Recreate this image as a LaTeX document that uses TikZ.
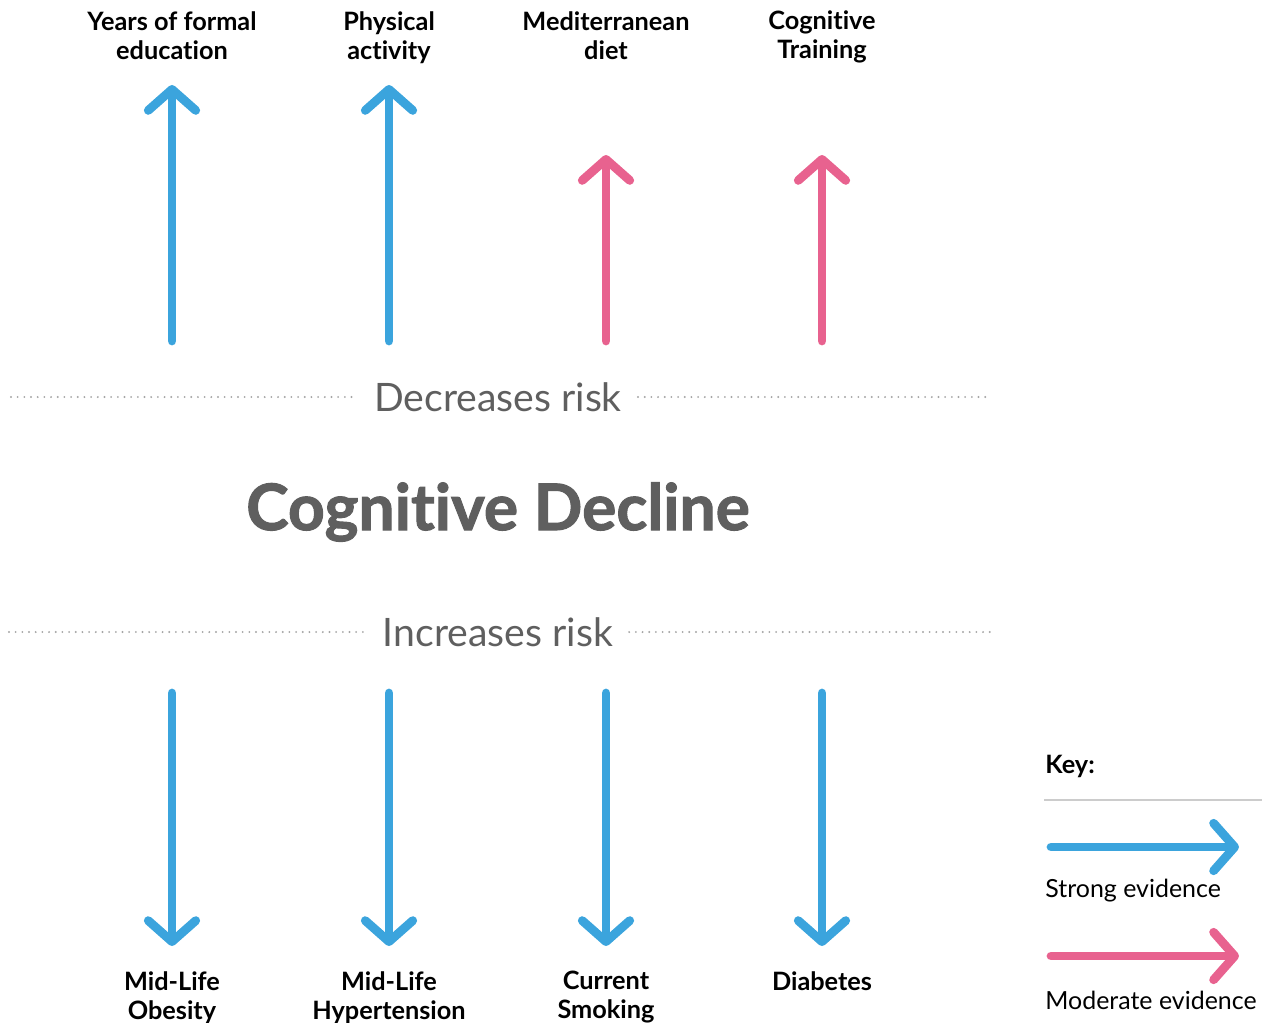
\documentclass[tikz,border=0pt]{standalone}
\usepackage{fontspec}
\setmainfont{Lato}[Ligatures=NoCommon]
\newfontfamily\titlefont{Lato}[Ligatures=NoCommon, BoldFeatures={FakeBold=1.6}]
\usepackage{tikz}
\usetikzlibrary{positioning}
\usetikzlibrary{arrows.meta}
\definecolor{strongcol}{HTML}{3BA4DD}
\definecolor{modcol}{HTML}{E8628F}
\definecolor{textgray}{HTML}{5F5F5F}
\definecolor{dotgray}{HTML}{A5A5A5}
\definecolor{rulegray}{HTML}{CCCCCC}
\tikzset{
  evidence/.style={line width=5pt, line cap=round,
    -{Straight Barb[length=0.42cm, width=0.95cm, round]}},
  factor/.style={font=\bfseries\fontsize{14.4}{16.5}\selectfont, align=center, anchor=north},
  riskline/.style={dotgray, line width=1.2pt, line cap=round, dash pattern=on 0pt off 3.8pt},
  risklabel/.style={font=\fontsize{22.3}{26}\selectfont, text=textgray, inner xsep=9pt},
  keytext/.style={font=\fontsize{14.2}{17}\selectfont, anchor=west, inner xsep=0pt},
}

\begin{document}
\begin{tikzpicture}[x=0.02cm, y=-0.02cm]
\useasboundingbox (0,0) rectangle (1267,1022);

% ================= Protective factors =================
\node[factor] (up1) at (172,5) {Years of formal\\education};
\node[factor] (up2) at (389,5) {Physical\\activity};
\node[factor] (up3) at (606,5) {Mediterranean\\diet};
\node[factor] (up4) at (822,5) {Cognitive\\Training};

\foreach \px/\ptip/\pcol [count=\k] in {172/85/strongcol, 389/85/strongcol, 606/155/modcol, 822/155/modcol}{
  \coordinate (upS\k) at (\px,341);
  \coordinate (upT\k) at (\px,\ptip);
  \draw[evidence, \pcol] (upS\k) -- (upT\k);
}

% ================= Decreases risk =================
\node[risklabel] (dec) at (498,397) {Decreases risk};
\coordinate (decL) at (11,397);
\coordinate (decR) at (990,397);
\draw[riskline] (decL) -- (dec) (dec) -- (decR);

% ================= Title =================
\node[font=\titlefont\bfseries\fontsize{36.5}{42}\selectfont, text=textgray] (title) at (498,512) {Cognitive Decline};

% ================= Increases risk =================
\node[risklabel] (inc) at (498,632) {Increases risk};
\coordinate (incL) at (9,632);
\coordinate (incR) at (990,632);
\draw[riskline] (incL) -- (inc) (inc) -- (incR);

% ================= Risk factors =================
\foreach \px [count=\k] in {172, 389, 606, 822}{
  \coordinate (dnS\k) at (\px,693);
  \coordinate (dnT\k) at (\px,946);
  \draw[evidence, strongcol] (dnS\k) -- (dnT\k);
}

\node[factor] (dn1) at (172,965) {Mid-Life\\Obesity};
\node[factor] (dn2) at (389,965) {Mid-Life\\Hypertension};
\node[factor] (dn3) at (606,965) {Current\\Smoking};
\node[factor] (dn4) at (822,965) {Diabetes};

% ================= Key =================
\node[font=\bfseries\fontsize{14.4}{17}\selectfont, anchor=west, inner xsep=0pt] (key) at (1045,766) {Key:};
\coordinate (ruleL) at (1044,800);
\coordinate (ruleR) at (1262,800);
\draw[rulegray, line width=1pt] (ruleL) -- (ruleR);

\coordinate (strS) at (1051,847);
\coordinate (strT) at (1239,847);
\draw[evidence, strongcol] (strS) -- (strT);
\node[keytext] (strong) at (1045,891) {Strong evidence};

\coordinate (modS) at (1051,956);
\coordinate (modT) at (1239,956);
\draw[evidence, modcol] (modS) -- (modT);
\node[keytext] (moderate) at (1045,1000) {Moderate evidence};

\end{tikzpicture}
\end{document}
